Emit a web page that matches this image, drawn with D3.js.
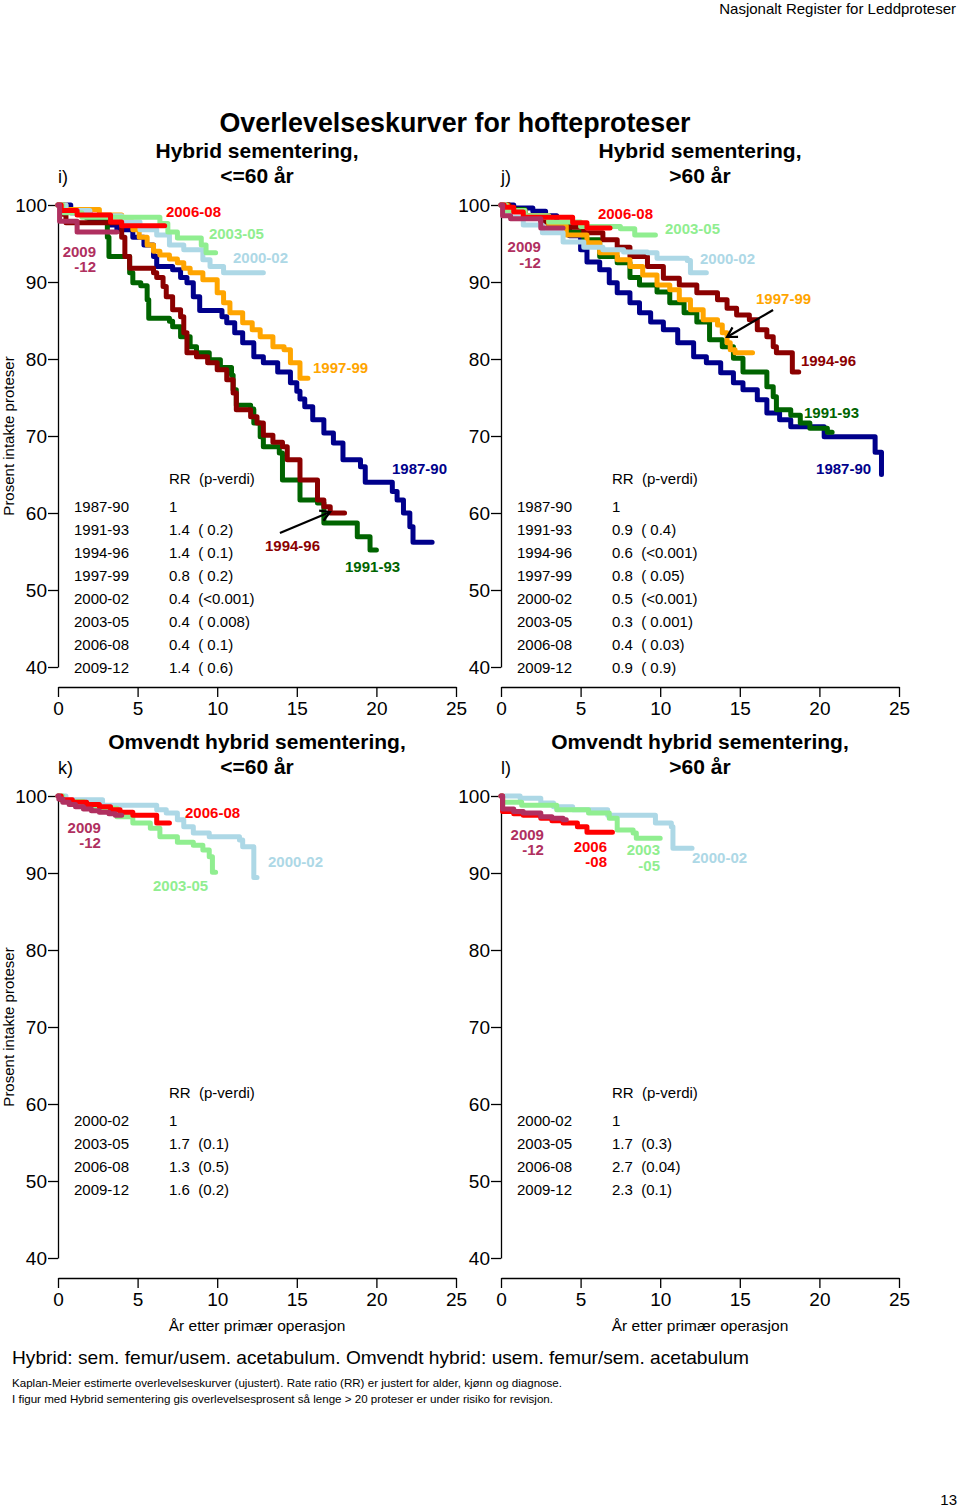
<!DOCTYPE html>
<html><head><meta charset="utf-8">
<script src="https://cdn.jsdelivr.net/npm/d3@7"></script>
<style>
body{margin:0;background:#fff}
svg{font-family:"Liberation Sans",Arial,Helvetica,sans-serif}
</style>
</head><body>
<svg id="c" width="960" height="1508"></svg>
<script>
// ---------- tick labels & categories ----------
const xTicks = [0, 5, 10, 15, 20, 25];
const yTicks = [40, 50, 60, 70, 80, 90, 100];
const periodsHybrid = ["1987-90","1991-93","1994-96","1997-99","2000-02","2003-05","2006-08","2009-12"];
const periodsOmv = ["2000-02","2003-05","2006-08","2009-12"];

// ---------- RR tables ----------
const rrI = ["1","1.4  ( 0.2)","1.4  ( 0.1)","0.8  ( 0.2)","0.4  (<0.001)","0.4  ( 0.008)","0.4  ( 0.1)","1.4  ( 0.6)"];
const rrJ = ["1","0.9  ( 0.4)","0.6  (<0.001)","0.8  ( 0.05)","0.5  (<0.001)","0.3  ( 0.001)","0.4  ( 0.03)","0.9  ( 0.9)"];
const rrK = ["1","1.7  (0.1)","1.3  (0.5)","1.6  (0.2)"];
const rrL = ["1","1.7  (0.3)","2.7  (0.04)","2.3  (0.1)"];

// ---------- survival curves [year, percent] (step after) ----------
// panel i: Hybrid, <=60
const i_8790 = [[0,100],[0.8,99],[2,98],[3.2,97.4],[3.7,96.8],[4.7,95.8],[5.4,94.8],[6,93.3],[6.2,92],[7.2,91.6],[7.7,90.6],[8.1,89.9],[8.5,88.1],[8.9,86.3],[10.3,85.5],[10.6,84.7],[11.1,83.4],[11.6,82.1],[12.3,80.3],[12.9,79.5],[13.8,78.3],[14.6,76.9],[15,75.8],[15.2,74.8],[15.5,73.8],[16,72.1],[16.7,70.4],[17.3,69.1],[17.9,66.9],[19,66],[19.3,64],[21,62.8],[21.3,61.7],[21.7,60],[22.1,58.2],[22.3,56.2],[23.5,56.2]];
const i_9193 = [[0,100],[0.4,99.2],[1.8,98.3],[3.1,95.8],[3.2,93.3],[4.5,91.2],[4.7,89.9],[5.2,89.5],[5.6,87.7],[5.7,85.3],[7,84.9],[7.2,84.2],[7.7,82.9],[8.3,81.6],[8.7,80.8],[9.5,79.9],[10.2,78.9],[10.9,77.9],[11.0,76],[11.2,74],[12.1,73.5],[12.3,71.7],[12.7,69.9],[12.9,68.6],[13.9,67.8],[14.1,64.3],[15.2,61.7],[16.3,61.3],[16.7,58.7],[18.8,56.9],[19.6,55.2],[20,55.2]];
const i_9496 = [[0,100],[0.3,98.8],[0.5,97.7],[4.0,95.8],[4.2,93.3],[4.5,91.8],[6,91.2],[6.2,90.6],[6.6,89.4],[6.8,88.1],[7.2,86.4],[7.7,85.5],[7.9,83.4],[8.1,80.8],[8.7,80.3],[9.4,79.5],[10,78.6],[10.6,77.3],[11,75.6],[11.2,73.4],[12.1,72.5],[12.5,71.7],[12.9,70.1],[13.5,69.2],[14.1,68.6],[14.4,66.9],[15.2,64.3],[16.3,61.7],[16.7,60.8],[17.1,60],[18,60]];
const i_9799 = [[0,100],[0.5,99.4],[2.6,98.7],[4,97.8],[4.7,96.8],[5.1,95.8],[5.6,94.8],[6.0,94.0],[6.4,93.5],[7.0,93.0],[7.5,92.5],[7.9,91.8],[8.3,91.2],[9.1,90.3],[10,88.6],[10.4,87.3],[10.8,86],[11.6,84.7],[12.2,83.8],[12.7,82.9],[13.5,81.6],[14.2,81.2],[14.6,79.5],[15.2,77.5],[15.7,77.5]];
const i_0002 = [[0,100],[0.5,99.3],[2,98.6],[4,97.8],[5.15,96.8],[6.2,96.1],[7,94.8],[7.9,94.2],[9.1,92.9],[9.55,92],[10.4,91.2],[12.9,91.2]];
const i_0305 = [[0,100],[0.3,99],[1.5,98.4],[6.4,97.6],[6.9,96.5],[7.5,95.7],[9.0,94.8],[9.3,93.8],[9.9,93.8]];
const i_0608 = [[0,100],[0.2,99.3],[1.2,98.7],[3.3,97.8],[4,97.3],[6.7,97.3]];
const i_0912 = [[0,100],[0.1,97.9],[1.2,96.5],[3.7,96.5]];

// panel j: Hybrid, >60
const j_8790 = [[0,100],[0.8,99.6],[2,99.2],[2.8,98.6],[3.5,97.7],[4.3,96],[5,94.2],[5.4,92.6],[6.2,91.6],[6.8,89.9],[7.3,88.6],[8.1,87.3],[8.7,86],[9.4,84.8],[10.2,83.8],[11.1,82.1],[12.1,80.3],[12.9,79.5],[13.8,78.2],[14.6,76.9],[15.2,76],[16.1,74.7],[16.7,73],[17.5,72.1],[18.2,71.2],[20.3,69.9],[23.5,67.9],[23.9,65]];
const j_9193 = [[0,100],[0.5,99.4],[1.5,98.6],[3,97.5],[4.2,96.5],[5.2,95.5],[6.2,93.3],[7.3,92.5],[8.1,90.6],[8.7,89.6],[9.8,88.7],[10.6,87.3],[11.5,86],[12.3,84.8],[13.1,82.5],[13.9,81.6],[14.6,80.1],[15.2,78.3],[16.7,76.4],[17.1,75.1],[17.3,73.4],[18.2,72.7],[18.8,71.7],[19.4,71],[20.5,70.5],[20.8,70.5]];
const j_9496 = [[0,100],[0.5,99.3],[1.5,98.6],[2.5,97.8],[3.5,97.1],[5.2,96.4],[6.4,95.5],[7.3,94.5],[8.1,93.3],[9.2,92],[10.2,90.5],[11.2,89.6],[12.3,88.6],[13.6,87.7],[14.2,86.6],[14.8,85.7],[15.6,85.1],[16.1,83.8],[16.7,82.9],[17.1,81.6],[17.3,80.8],[18.3,78.3],[18.7,78.3]];
const j_9799 = [[0,100],[0.4,99.3],[1.5,98.6],[3,97.3],[4.1,96.1],[5.4,95.1],[6.2,93.8],[7.3,92.9],[8.1,92],[8.9,90.9],[9.8,89.6],[10.6,89],[11.2,87.7],[11.9,86.4],[12.7,85.1],[13.6,84.4],[13.9,83.4],[14.2,82.1],[14.4,81.2],[14.7,80.8],[15.8,80.8]];
const j_0002 = [[0,100],[0.3,99.2],[0.6,98.4],[1.4,97.4],[2.6,96.4],[3.9,95.2],[5.2,94.5],[6.4,94.2],[7.7,93.9],[9.2,93.8],[9.8,93.1],[11.7,92.8],[11.9,91.2],[12.9,91.2]];
const j_0305 = [[0,100],[0.3,99.3],[1.5,98.6],[3,97.8],[5,97.2],[7.5,96.9],[8.4,96.1],[9.7,96.1]];
const j_0608 = [[0,100],[0.2,99.7],[0.8,99.1],[1.4,98.4],[4.5,97.7],[5.4,97],[6.85,97]];
const j_0912 = [[0,100],[0.1,98.6],[0.6,98.2],[2.5,97],[3.9,97]];

// panel k: Omvendt hybrid, <=60
const k_0002 = [[0,100],[0.5,99.5],[2.8,98.8],[6.2,98.2],[6.8,97.8],[7.5,96.9],[7.9,96],[8.5,95.2],[9.5,94.7],[11.4,94.3],[11.6,93.4],[12.3,89.4],[12.5,89.4]];
const k_0305 = [[0,100],[0.3,99.3],[1.6,98.4],[3.7,97.3],[4.7,96.5],[5.8,95.8],[6.4,94.7],[7.5,94],[8.5,93.6],[9.1,93],[9.5,92.1],[9.7,90.1],[9.9,90.1]];
const k_0608 = [[0,100],[0.2,99.5],[0.9,99.2],[1.8,98.9],[2.6,98.6],[3.3,98.2],[3.9,97.9],[4.7,97.5],[6.2,96.5],[7,96.5]];
const k_0912 = [[0,100],[0.05,99.6],[0.3,99.2],[0.7,98.9],[1.1,98.6],[1.6,98.3],[2.1,98.1],[2.6,97.9],[3.2,97.7],[3.6,97.5],[4,97.5]];

// panel l: Omvendt hybrid, >60
const l_0002 = [[0,100],[1.2,99.7],[2.5,99.1],[3.3,98.6],[4.5,98.2],[6.7,97.5],[9.7,96.5],[10.7,96],[10.8,93.2],[12,93.2]];
const l_0305 = [[0,100],[0.1,99.2],[1.3,98.8],[3.5,98.2],[5.5,97.8],[6.8,97.1],[7.3,95.6],[8.3,95.2],[8.5,94.5],[10,94.5]];
const l_0608 = [[0,100],[0.1,98],[0.8,97.7],[1.4,97.5],[2.5,97.1],[3.2,96.8],[3.9,96.5],[4.8,96],[5.4,95.3],[7,95.3]];
const l_0912 = [[0,100],[0.1,98.3],[0.8,98],[1.4,97.8],[2.5,97.3],[3.2,97.1],[3.9,96.9],[4.1,96.9]];

// ---------- styles ----------
const colHybrid = ["#00008B","#006400","#8B0000","#FFA500","#ADD8E6","#90EE90","#FF0000","#B03060"];
const colOmv = ["#ADD8E6","#90EE90","#FF0000","#B03060"];

const svg = d3.select("#c");

// page texts
svg.append("text").attr("x",956).attr("y",14).attr("text-anchor","end").attr("font-size",15)
  .text("Nasjonalt Register for Leddproteser");
svg.append("text").attr("x",455).attr("y",132).attr("text-anchor","middle").attr("font-size",27).attr("font-weight","bold")
  .attr("textLength",471).attr("lengthAdjust","spacingAndGlyphs").text("Overlevelseskurver for hofteproteser");
svg.append("text").attr("x",12).attr("y",1364).attr("font-size",18.5)
  .attr("textLength",737).attr("lengthAdjust","spacingAndGlyphs")
  .text("Hybrid: sem. femur/usem. acetabulum. Omvendt hybrid: usem. femur/sem. acetabulum");
svg.append("text").attr("x",12).attr("y",1387).attr("font-size",11)
  .attr("textLength",550).attr("lengthAdjust","spacingAndGlyphs")
  .text("Kaplan-Meier estimerte overlevelseskurver (ujustert). Rate ratio (RR) er justert for alder, kjønn og diagnose.");
svg.append("text").attr("x",12).attr("y",1403).attr("font-size",11)
  .attr("textLength",541).attr("lengthAdjust","spacingAndGlyphs")
  .text("I figur med Hybrid sementering gis overlevelsesprosent så lenge > 20 proteser er under risiko for revisjon.");
svg.append("text").attr("x",957).attr("y",1505).attr("text-anchor","end").attr("font-size",15).text("13");

const panels = [
  {letter:"i)", left:58, top:205, t1:"Hybrid sementering,", t2:"<=60 år",
   series:[i_8790,i_9193,i_9496,i_9799,i_0002,i_0305,i_0608,i_0912], cats:periodsHybrid, cols:colHybrid, rr:rrI,
   tableTop:273, ylab:true, xlab:false,
   labels:[["2006-08",6,6.78,99.22,"start"],["2003-05",5,9.48,96.36,"start"],["2000-02",4,10.99,93.12,"start"],
           ["1997-99",3,16.02,78.96,"start"],["1987-90",0,20.98,65.84,"start"],["1994-96",2,13.0,55.84,"start"],
           ["1991-93",1,18.03,52.99,"start"],["2009",7,2.39,93.9,"end"],["-12",7,2.39,91.95,"end"]],
   arrow:[13.94,57.4,17.09,60.13]},
  {letter:"j)", left:501, top:205, t1:"Hybrid sementering,", t2:">60 år",
   series:[j_8790,j_9193,j_9496,j_9799,j_0002,j_0305,j_0608,j_0912], cats:periodsHybrid, cols:colHybrid, rr:rrJ,
   tableTop:273, ylab:false, xlab:false,
   labels:[["2006-08",6,6.09,98.96,"start"],["2003-05",5,10.3,97.0,"start"],["2000-02",4,12.5,92.99,"start"],
           ["1997-99",3,16.02,87.9,"start"],["1994-96",2,18.84,79.87,"start"],["1991-93",1,19.03,72.99,"start"],
           ["1987-90",0,19.79,65.84,"start"],["2009",7,2.51,94.55,"end"],["-12",7,2.51,92.47,"end"]],
   arrow:[17.09,86.36,14.2,82.86]},
  {letter:"k)", left:58, top:796, t1:"Omvendt hybrid sementering,", t2:"<=60 år",
   series:[k_0002,k_0305,k_0608,k_0912], cats:periodsOmv, cols:colOmv, rr:rrK,
   tableTop:296, ylab:true, xlab:true,
   labels:[["2006-08",2,7.98,97.92,"start"],["2009",3,2.7,95.97,"end"],["-12",3,2.7,93.9,"end"],
           ["2000-02",0,13.19,91.43,"start"],["2003-05",1,5.97,88.44,"start"]]},
  {letter:"l)", left:501, top:796, t1:"Omvendt hybrid sementering,", t2:">60 år",
   series:[l_0002,l_0305,l_0608,l_0912], cats:periodsOmv, cols:colOmv, rr:rrL,
   tableTop:296, ylab:false, xlab:true,
   labels:[["2009",3,2.7,94.94,"end"],["-12",3,2.7,92.99,"end"],["2006",2,6.66,93.38,"end"],["-08",2,6.66,91.43,"end"],
           ["2003",1,9.99,92.99,"end"],["-05",1,9.99,90.91,"end"],["2000-02",0,12.0,91.95,"start"]]}
];

panels.forEach(p => {
  const x = d3.scaleLinear().domain([0,25]).range([p.left, p.left+398]);
  const y = d3.scaleLinear().domain([40,100]).range([p.top+462, p.top]);
  const g = svg.append("g");
  const cx = p.left + 199;

  // titles
  g.append("text").attr("x",cx).attr("y",p.top-47).attr("text-anchor","middle").attr("font-size",21).attr("font-weight","bold").text(p.t1);
  g.append("text").attr("x",cx).attr("y",p.top-22).attr("text-anchor","middle").attr("font-size",21).attr("font-weight","bold").text(p.t2);
  g.append("text").attr("x",p.left).attr("y",p.top-22).attr("font-size",18).text(p.letter);

  // axes
  const ya = g.append("g").attr("transform",`translate(${p.left},0)`)
    .call(d3.axisLeft(y).tickValues(yTicks).tickSize(10).tickSizeOuter(0).tickPadding(1));
  const xa = g.append("g").attr("transform",`translate(0,${p.top+482})`)
    .call(d3.axisBottom(x).tickValues(xTicks).tickSize(10).tickSizeOuter(0).tickPadding(5));
  [ya, xa].forEach(a => {
    a.selectAll("text").attr("font-size",19).attr("font-family","Liberation Sans, Arial, sans-serif").attr("fill","#000");
    a.selectAll("path,line").attr("stroke","#000").attr("stroke-width",1.3);
  });

  if (p.ylab) {
    g.append("text").attr("transform",`translate(${p.left-50},${p.top+231}) rotate(-90)`)
      .attr("text-anchor","middle").attr("dominant-baseline","central").attr("font-size",15).text("Prosent intakte proteser");
  }
  if (p.xlab) {
    g.append("text").attr("x",cx).attr("y",p.top+535).attr("text-anchor","middle").attr("font-size",15.5).text("År etter primær operasjon");
  }

  // curves
  const line = d3.line().x(d => x(d[0])).y(d => y(d[1])).curve(d3.curveStepAfter);
  p.series.forEach((s, k) => {
    g.append("path").attr("d", line(s)).attr("fill","none").attr("stroke", p.cols[k])
      .attr("stroke-width",5).attr("stroke-linejoin","round").attr("stroke-linecap","round");
  });

  // curve labels
  p.labels.forEach(([txt, k, t, v, anc]) => {
    g.append("text").attr("x", x(t)).attr("y", y(v)).attr("text-anchor", anc).attr("dominant-baseline","central")
      .attr("font-size",15).attr("font-weight","bold").attr("fill", p.cols[k]).text(txt);
  });

  // arrow
  if (p.arrow) {
    const [t0,v0,t1,v1] = p.arrow;
    const X0 = x(t0), Y0 = y(v0), X1 = x(t1), Y1 = y(v1);
    const ang = Math.atan2(Y1-Y0, X1-X0), L = 11, a = Math.PI/6;
    g.append("line").attr("x1",X0).attr("y1",Y0).attr("x2",X1).attr("y2",Y1).attr("stroke","#000").attr("stroke-width",2.2);
    g.append("path").attr("d",`M${X1-L*Math.cos(ang-a)},${Y1-L*Math.sin(ang-a)}L${X1},${Y1}L${X1-L*Math.cos(ang+a)},${Y1-L*Math.sin(ang+a)}`)
      .attr("fill","none").attr("stroke","#000").attr("stroke-width",2.2);
  }

  // RR table
  const ty = p.top + p.tableTop;
  g.append("text").attr("x",p.left+111).attr("y",ty).attr("dominant-baseline","central").attr("font-size",15)
    .style("white-space","pre").text("RR  (p-verdi)");
  p.cats.forEach((c, k) => {
    const yy = ty + 28 + k*23;
    g.append("text").attr("x",p.left+16).attr("y",yy).attr("dominant-baseline","central").attr("font-size",15).text(c);
    g.append("text").attr("x",p.left+111).attr("y",yy).attr("dominant-baseline","central").attr("font-size",15)
      .style("white-space","pre").text(p.rr[k]);
  });
});
</script>
</body></html>
